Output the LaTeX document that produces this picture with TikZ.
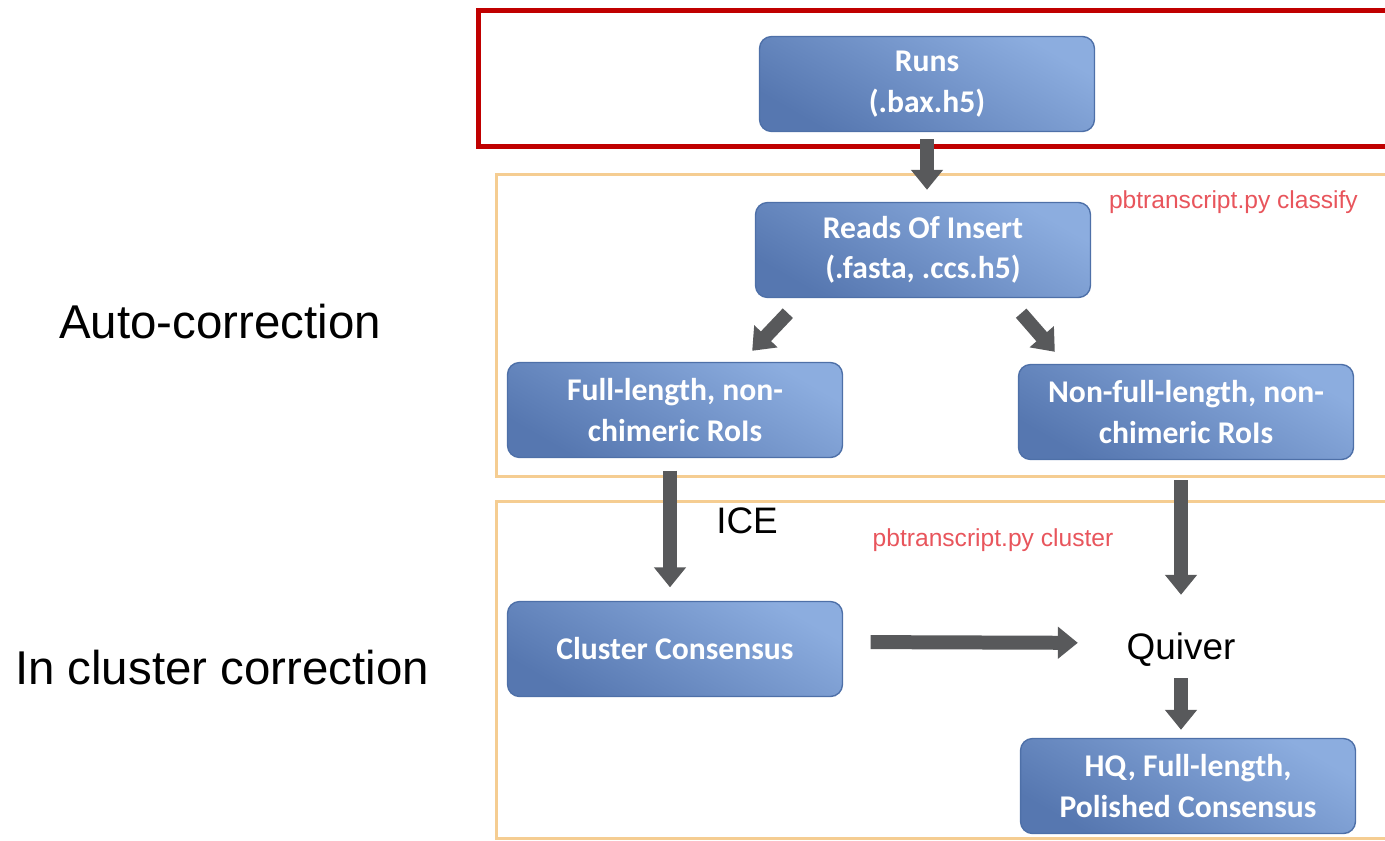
\documentclass[tikz,border=0pt]{standalone}
\usepackage{fontspec}
\setmainfont{Liberation Sans}
\newfontfamily\boxfont{Carlito}
\usetikzlibrary{arrows.meta, positioning, calc}
\definecolor{boxtop}{HTML}{8CADDF}
\definecolor{boxbot}{HTML}{5677B0}
\definecolor{boxline}{HTML}{4E70A8}
\definecolor{arrowgrey}{HTML}{58595B}
\definecolor{framered}{HTML}{C00000}
\definecolor{frameorange}{HTML}{F5CD92}
\definecolor{tagred}{HTML}{E8555C}

\begin{document}
\begin{tikzpicture}[x=0.02cm, y=-0.02cm,
  procbox/.style={draw=boxline, line width=0.8pt, rounded corners=0.24cm,
    top color=boxtop, bottom color=boxbot, shading angle=-30,
    minimum width=6.7cm, minimum height=1.9cm, align=center, text=white,
    font=\boxfont\bfseries\fontsize{18}{23}\selectfont},
  blockarrow/.style={arrowgrey, line width=0.28cm,
    -{Triangle[width=0.62cm, length=0.4cm]}},
  tooltag/.style={text=tagred, font=\fontsize{14}{16}\selectfont},
  plainlabel/.style={font=\fontsize{21}{25}\selectfont},
  sidelabel/.style={font=\fontsize{27}{32}\selectfont}]
  \useasboundingbox (0,0) rectangle (1385,841);
  % frames
  \draw[framered, line width=0.1cm] (478,11) rectangle (1400,147);
  \draw[frameorange, line width=0.06cm] (496,175) rectangle (1400,476);
  \draw[frameorange, line width=0.06cm] (496,501) rectangle (1400,838);
  % steps
  \node[procbox] (runs) at (927,84) {Runs\\(.bax.h5)};
  \node[procbox] (reads) at (923,250) {Reads Of Insert\\(.fasta, .ccs.h5)};
  \node[procbox] (full) at (675,410) {Full-length, non-\\chimeric RoIs};
  \node[procbox] (nonfull) at (1186,412) {Non-full-length, non-\\chimeric RoIs};
  \node[procbox] (cluster) at (675,649) {Cluster Consensus};
  \node[plainlabel, inner sep=0pt] (quiver) at (1181,650) {Quiver};
  \node[procbox] (hq) at (1188,786) {HQ, Full-length,\\Polished Consensus};
  % labels
  \node[sidelabel] (auto) at (220,322) {Auto-correction};
  \node[sidelabel] (incluster) at (222,668) {In cluster correction};
  \node[plainlabel] (ice) at (747,521) {ICE};
  \node[tooltag, anchor=east] (classify) at (1364,202) {pbtranscript.py classify};
  \node[tooltag] (clustertag) at (993,540) {pbtranscript.py cluster};
  % arrows
  \draw[blockarrow, shorten <=0.14cm, shorten >=0.24cm]
    (runs.south) -- (runs.south |- reads.north);
  \draw[blockarrow] ([shift={(33,15)}]reads.south west)
    -- ([shift={(-91,-11)}]full.north east);
  \draw[blockarrow] ([shift={(-70,15)}]reads.south east)
    -- ([shift={(37,-12)}]nonfull.north west);
  \draw[blockarrow, shorten <=0.25cm, shorten >=0.27cm]
    ([xshift=-0.1cm]full.south) -- ([xshift=-0.1cm]cluster.north);
  \draw[blockarrow, shorten <=0.4cm, shorten >=0.76cm]
    (nonfull.south -| quiver.north) -- (quiver.north);
  \draw[blockarrow, shorten <=0.55cm, shorten >=0.97cm]
    ([yshift=0.14cm]cluster.east) -- ([yshift=0.14cm]quiver.west);
  \draw[blockarrow, shorten <=0.22cm, shorten >=0.16cm]
    (quiver.south) -- (quiver.south |- hq.north);
\end{tikzpicture}
\end{document}
